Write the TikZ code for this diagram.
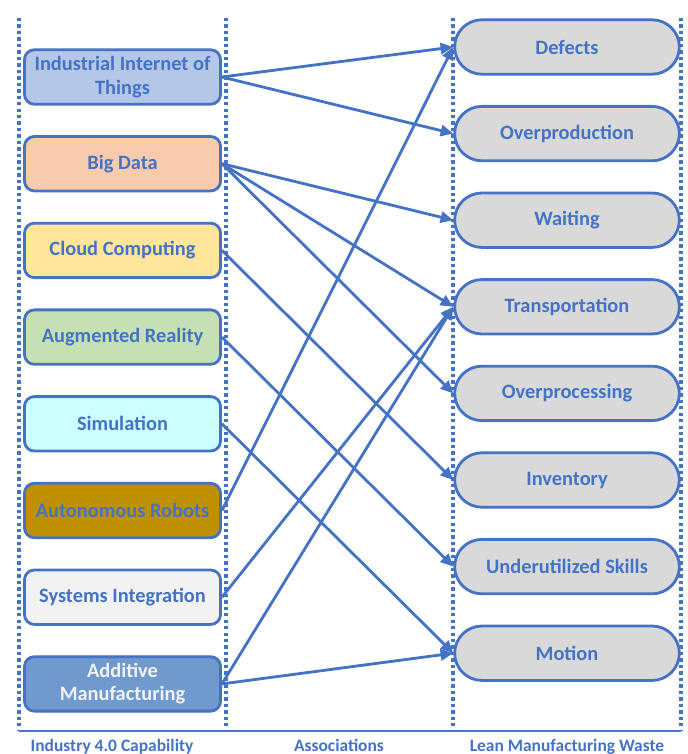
\documentclass[tikz,border=0pt]{standalone}
\usepackage{fontspec}
\setmainfont{Carlito}
\usetikzlibrary{arrows.meta,shapes.misc}
\definecolor{lineblue}{HTML}{4472C4}
\definecolor{iiotfill}{HTML}{B4C7E7}
\definecolor{datafill}{HTML}{F8CBAD}
\definecolor{cloudfill}{HTML}{FFE699}
\definecolor{arfill}{HTML}{C5E0B4}
\definecolor{simfill}{HTML}{CCFFFF}
\definecolor{robotfill}{HTML}{BF9000}
\definecolor{sysfill}{HTML}{F2F2F2}
\definecolor{addfill}{HTML}{709ACE}
\definecolor{wastefill}{HTML}{D9D9D9}

\begin{document}
\begin{tikzpicture}[x=0.025cm,y=-0.025cm,
    capbox/.style={draw=lineblue,line width=2pt,rounded corners=7pt,minimum width=4.9cm,minimum height=1.36cm,
      align=center,text=lineblue,font=\fontsize{14.5}{16.5}\selectfont\bfseries},
    wastebox/.style={rounded rectangle,draw=lineblue,line width=2pt,fill=wastefill,minimum width=5.85cm,minimum height=1.36cm,
      text=lineblue,font=\fontsize{14.5}{16.5}\selectfont\bfseries},
    link/.style={draw=lineblue,line width=2pt,-{Triangle[length=9pt,width=8pt]}},
    guide/.style={lineblue,line width=2.4pt,dash pattern=on 2.4pt off 2.2pt},
    coltitle/.style={anchor=base,text=lineblue,font=\fontsize{12.4}{15}\selectfont\bfseries}]
    \useasboundingbox (0,0) rectangle (688,754);

    \draw [guide] (19,18) -- (19,731);
    \draw [guide] (226,18) -- (226,731);
    \draw [guide] (453,18) -- (453,731);
    \draw [guide] (681,18) -- (681,731);
    \draw [lineblue,line width=2pt] (19,731) -- (681,731);

    \node [capbox,fill=iiotfill] (iiot) at (122.5,77) {Industrial Internet of\\Things};
    \node [capbox,fill=datafill] (data) at (122.5,163.7) {Big Data};
    \node [capbox,fill=cloudfill] (cloud) at (122.5,250.4) {Cloud Computing};
    \node [capbox,fill=arfill] (ar) at (122.5,337.1) {Augmented Reality};
    \node [capbox,fill=simfill] (sim) at (122.5,423.8) {Simulation};
    \node [capbox,fill=robotfill] (robots) at (122.5,510.5) {Autonomous Robots};
    \node [capbox,fill=sysfill] (sysint) at (122.5,597.2) {Systems Integration};
    \node [capbox,fill=addfill,text=sysfill] (additive) at (122.5,683.9) {Additive\\Manufacturing};

    \node [wastebox] (defects) at (567,47) {Defects};
    \node [wastebox] (overprod) at (567,133.6) {Overproduction};
    \node [wastebox] (waiting) at (567,220.2) {Waiting};
    \node [wastebox] (transport) at (567,306.8) {Transportation};
    \node [wastebox] (overproc) at (567,393.4) {Overprocessing};
    \node [wastebox] (inventory) at (567,480) {Inventory};
    \node [wastebox] (skills) at (567,566.6) {Underutilized Skills};
    \node [wastebox] (motion) at (567,653.2) {Motion};

    \draw [link] (iiot.east) -- (defects.west);
    \draw [link] (iiot.east) -- (overprod.west);
    \draw [link] (data.east) -- (waiting.west);
    \draw [link] (data.east) -- (transport.west);
    \draw [link] (data.east) -- (overproc.west);
    \draw [link] (cloud.east) -- (inventory.west);
    \draw [link] (ar.east) -- (skills.west);
    \draw [link] (sim.east) -- (motion.west);
    \draw [link] (robots.east) -- (defects.west);
    \draw [link] (sysint.east) -- (transport.west);
    \draw [link] (additive.east) -- (transport.west);
    \draw [link] (additive.east) -- (motion.west);

    \node [coltitle] (captitle) at (112,751) {Industry 4.0 Capability};
    \node [coltitle] (assoctitle) at (339,751) {Associations};
    \node [coltitle] (wastetitle) at (567,751) {Lean Manufacturing Waste};
\end{tikzpicture}
\end{document}
